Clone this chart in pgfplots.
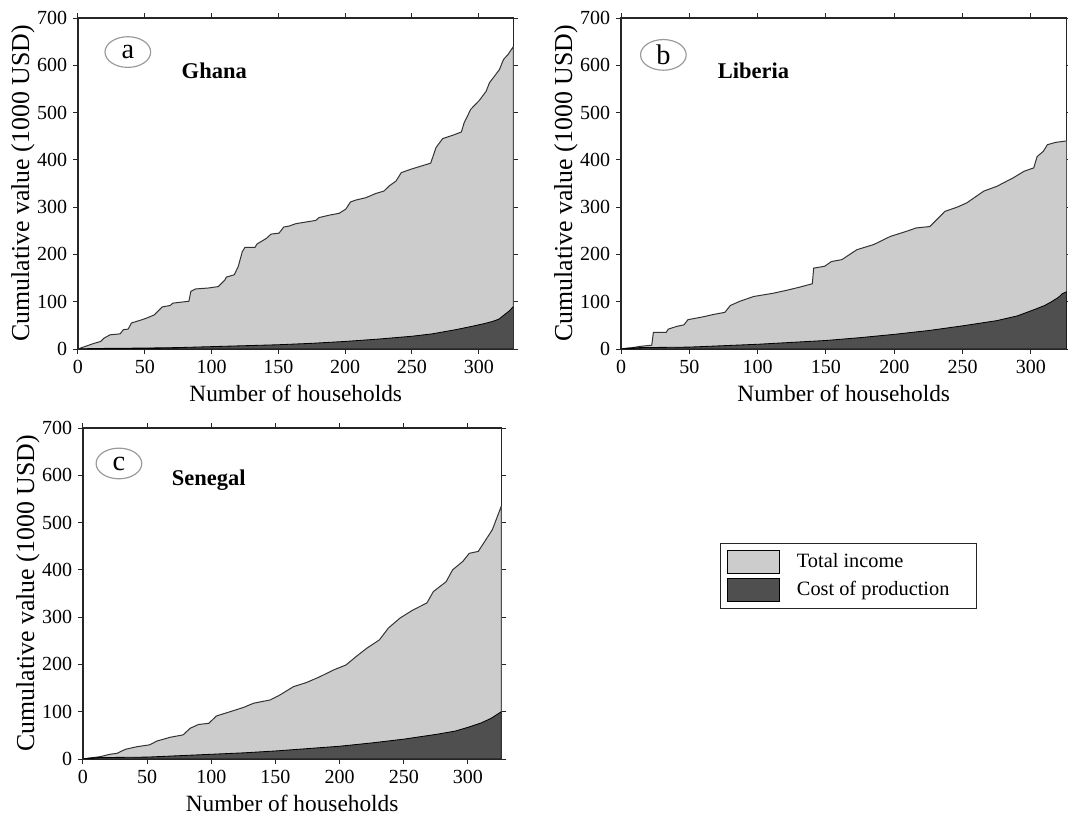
\documentclass[border=0pt]{standalone}
\usepackage{fontspec}
\setmainfont{Liberation Serif}
\usepackage{pgfplots}
\pgfplotsset{compat=1.18}
\usetikzlibrary{shapes.geometric}

\definecolor{income}{HTML}{CCCCCC}
\definecolor{cost}{HTML}{4F4F4F}
\definecolor{rim}{HTML}{999999}

\pgfplotsset{
  panel/.style={
    scale only axis,
    height=198.6pt,
    xmin=0, xmax=326,
    ymin=0, ymax=700,
    xtick={0,50,...,300},
    ytick={0,100,...,700},
    tick align=outside,
    major tick length=3pt,
    axis line style={black!85, line width=0.7pt},
    every tick/.style={black!85, line width=0.6pt},
    tick label style={font=\fontsize{12}{13}\selectfont},
    /pgf/number format/assume math mode=true,
    xlabel={Number of households},
    ylabel={Cumulative value (1000 USD)},
    xlabel style={font=\fontsize{14}{16}\selectfont, at={(axis description cs:0.5,0)}, anchor=center, yshift=-26.4pt},
    ylabel style={font=\fontsize{15.5}{17}\selectfont, at={(axis description cs:0,0.5)}, anchor=center, yshift=33pt},
    clip=true,
  },
  inc/.style={fill=income, draw=black!80, line width=0.6pt},
  cst/.style={fill=cost, draw=black, line width=0.5pt},
}
\tikzset{
  tag/.style={draw=rim, line width=0.7pt, ellipse, minimum width=27.4pt, minimum height=18.4pt, inner sep=0pt, font=\fontsize{17}{18}\selectfont},
  country/.style={font=\bfseries\fontsize{13.5}{15}\selectfont},
}

\begin{document}
\begin{tikzpicture}
\useasboundingbox (0pt,0pt) rectangle (640.8pt,-489.6pt);

% ---------------- a: Ghana ----------------
\begin{axis}[panel, width=261.3pt, at={(46.8pt,-209.4pt)}, anchor=south west]
\addplot[inc] coordinates {
(0,0) (4,4) (11,11) (17,16) (19.5,23) (24,30) (31.5,32) (34,41) (37.5,42)
(40,55) (48,62) (51,65) (57,72) (63,89) (69,92) (71,97) (83,101) (84.5,122)
(88,127) (97.6,129) (105,132) (110,146) (111,152) (117,157) (120,175)
(123,206) (125,215) (132.5,215) (134,222) (141,234) (144.5,243) (150.5,245)
(154,258) (158,260) (163,265) (178,272) (180.5,278) (188,283) (195.5,287)
(200.5,296) (204,311) (208,315) (215.5,320) (223,329) (229,334) (233,345)
(238,355) (242,373) (249,380) (257,387) (264,393) (268,426) (273,445)
(280.5,452) (287,459) (289,478) (294,507) (300.5,526) (305.5,545) (308,563)
(312,578) (315.5,591) (318,609) (319,614) (322,623) (326,640)
} \closedcycle;
\addplot[cst] coordinates {
(0,0) (10,1) (50,2) (75,3) (100,5) (125,7) (150,9) (175,12) (200,16)
(225,21) (250,27) (265,32) (283,41) (295,48) (303,53) (310,58) (315,63)
(319,72) (323,81) (326,90)
} \closedcycle;
\node[tag] at (axis cs:37.3,628) {a};
\node[country] at (axis cs:102,588) {Ghana};
\end{axis}

% ---------------- b: Liberia ----------------
\begin{axis}[panel, width=267.3pt, at={(372.6pt,-209.4pt)}, anchor=south west]
\addplot[inc] coordinates {
(0,0) (6.6,2) (14,5.6) (22.5,8) (23.7,35) (33,35) (34.6,42) (41,48) (46,51)
(49,62) (60,68) (67.6,73) (76,77.5) (80,92) (87,101) (97,111) (111.5,118)
(121,124) (131,131) (140,138) (141,171) (149,175) (154,185) (161.6,189)
(172.6,210) (185,221) (197,238) (209,249) (216,256) (226,259) (237,291)
(246,300) (253,309) (265.5,334) (275,344) (287,362) (295,376) (302,383)
(304.5,407) (309,418) (312,432) (318,437) (326,440)
} \closedcycle;
\addplot[cst] coordinates {
(0,0) (5,2) (15,3) (50,4) (75,7) (100,10) (125,14) (150,18) (175,24)
(200,31) (225,39) (250,49) (275,60) (290,70) (303,84) (310,92) (315,100)
(320,109) (323,117) (326,121)
} \closedcycle;
\node[tag] at (axis cs:31,622) {b};
\node[country] at (axis cs:97,588) {Liberia};
\end{axis}

% ---------------- c: Senegal ----------------
\begin{axis}[panel, width=251pt, at={(49.8pt,-455.4pt)}, anchor=south west,
  legend style={at={(1.523,0.653)}, anchor=north west, draw=black!85, line width=0.6pt,
    font=\fontsize{12.2}{14}\selectfont, row sep=2.4pt, inner xsep=4pt, inner ysep=4pt,
    /tikz/every odd column/.append style={column sep=8pt}},
  legend cell align=left,
  legend image code/.code={\draw[#1, draw=black, line width=0.6pt] (0pt,-6.9pt) rectangle (31.2pt,6.9pt);}]
\addplot[inc] coordinates {
(0,0) (13.5,5) (21,10) (26.5,12) (33,20.5) (42,26) (52,30) (57.6,38) (68,46)
(78,51) (83.5,65) (90,73) (98,75.5) (104,91) (114.6,100) (125,109) (133,118)
(146,125) (153.5,135.5) (164,153) (174,161.6) (184.6,174) (195,188) (205,199)
(213,217) (221,234) (231,252) (238,277) (247,298) (257,315) (268,330)
(273,354) (283,375) (288,400) (296,418) (301,435) (308,439) (314,464)
(319,485) (324.6,525) (326,535)
} \closedcycle;
\addlegendentry{Total income}
\addplot[cst] coordinates {
(0,0) (5,2) (12,3) (50,4) (75,7) (100,10) (125,13) (150,17) (175,22)
(200,27) (225,34) (250,42) (275,52) (290,59) (300,67) (310,76) (318,86)
(322,93) (326,100)
} \closedcycle;
\addlegendentry{Cost of production\hspace*{10pt}}
\node[tag] at (axis cs:28,625) {c};
\node[country] at (axis cs:98,590) {Senegal};
\end{axis}
\end{tikzpicture}
\end{document}
